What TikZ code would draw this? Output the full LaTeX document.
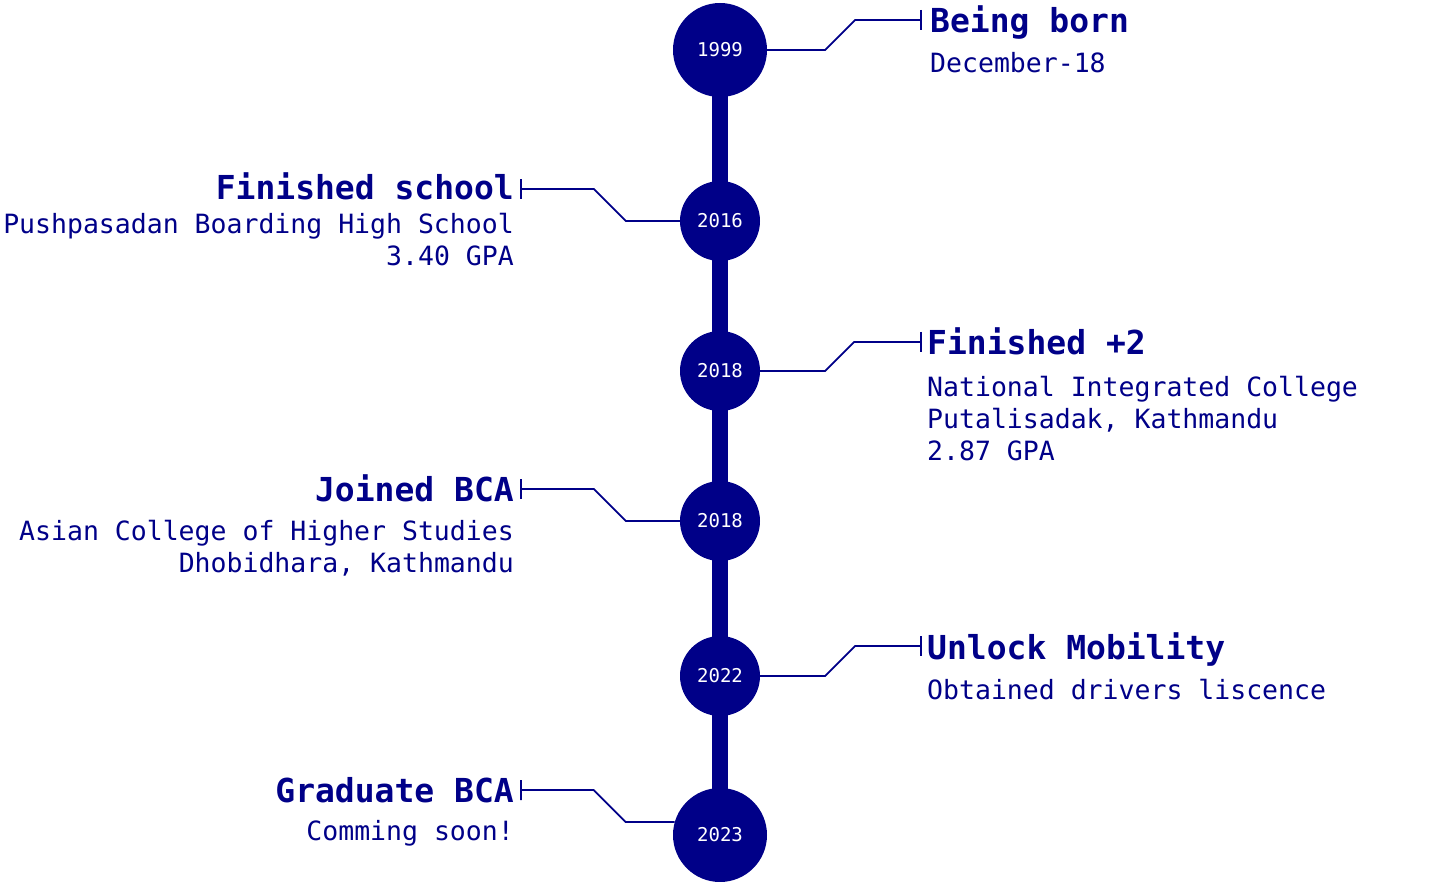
\documentclass[tikz,border=0pt]{standalone}
\usepackage{fontspec}
\setmonofont{DejaVu Sans Mono}
\usepackage{xcolor}
\usepackage{tikz}
\usetikzlibrary{arrows.meta, positioning, backgrounds}
\definecolor{tlnavy}{HTML}{000088}
\tikzset{
  yearbig/.style={circle,fill=tlnavy,minimum size=94pt,inner sep=0pt,text=white,font=\ttfamily\fontsize{19}{23}\selectfont},
  yearsmall/.style={yearbig,minimum size=80pt},
  spine/.style={tlnavy,line width=16pt},
  leader/.style={-{Bar[width=20pt]},tlnavy,line width=1.8pt},
  evtitle/.style={inner sep=0pt,text=tlnavy,font=\ttfamily\bfseries\fontsize{33}{40}\selectfont},
  evbody/.style={inner sep=0pt,text=tlnavy,font=\ttfamily\fontsize{26.5}{32}\selectfont},
}

\begin{document}
\begin{tikzpicture}[x=1pt,y=-1pt]
  \useasboundingbox (0,0) rectangle (1437,882);
  % year circles
  \node[yearbig] (y1999) at (720,50) {1999};
  \node[yearsmall] (y2016) at (720,221) {2016};
  \node[yearsmall] (y2018a) at (720,371) {2018};
  \node[yearsmall] (y2018b) at (720,521) {2018};
  \node[yearsmall] (y2022) at (720,676) {2022};
  \node[yearbig] (y2023) at (720,835) {2023};
  \begin{scope}[on background layer]
    \draw[spine] (y1999.center) -- (y2023.center);
  \end{scope}
  % leader ends
  \coordinate (e1999) at (922,20);
  \coordinate (e2016) at (520,189);
  \coordinate (e2018a) at (922,342);
  \coordinate (e2018b) at (520,489);
  \coordinate (e2022) at (922,646);
  \coordinate (e2023) at (520,790);
  \draw[leader] (y1999.east) -- ++(58,0) -- ++(30,-30) -- (e1999);
  \draw[leader] (y2016.west) -- ++(-54,0) -- ++(-32,-32) -- (e2016);
  \draw[leader] (y2018a.east) -- ++(65,0) -- ++(29,-29) -- (e2018a);
  \draw[leader] (y2018b.west) -- ++(-54,0) -- ++(-32,-32) -- (e2018b);
  \draw[leader] (y2022.east) -- ++(65,0) -- ++(30,-30) -- (e2022);
  \draw[leader] (y2023.164) -- ++(-49,0) -- ++(-32,-32) -- (e2023);
  % events (multi-line nodes sit on their last baseline)
  \node[evtitle,anchor=base west] (t1999) at (930,33) {Being born};
  \node[evbody,anchor=base west] (b1999) at (930,73) {December-18};
  \node[evtitle,anchor=base east] (t2016) at (514,200) {Finished school};
  \node[evbody,anchor=base east,align=right] (b2016) at (514,266) {Pushpasadan Boarding High School\\3.40 GPA};
  \node[evtitle,anchor=base west] (t2018a) at (927,355) {Finished +2};
  \node[evbody,anchor=base west,align=left] (b2018a) at (927,460) {National Integrated College\\Putalisadak, Kathmandu\\2.87 GPA};
  \node[evtitle,anchor=base east] (t2018b) at (514,501) {Joined BCA};
  \node[evbody,anchor=base east,align=right] (b2018b) at (514,572) {Asian College of Higher Studies\\Dhobidhara, Kathmandu};
  \node[evtitle,anchor=base west] (t2022) at (927,659) {Unlock Mobility};
  \node[evbody,anchor=base west] (b2022) at (927,699) {Obtained drivers liscence};
  \node[evtitle,anchor=base east] (t2023) at (514,802) {Graduate BCA};
  \node[evbody,anchor=base east] (b2023) at (514,840) {Comming soon!};
\end{tikzpicture}
\end{document}
